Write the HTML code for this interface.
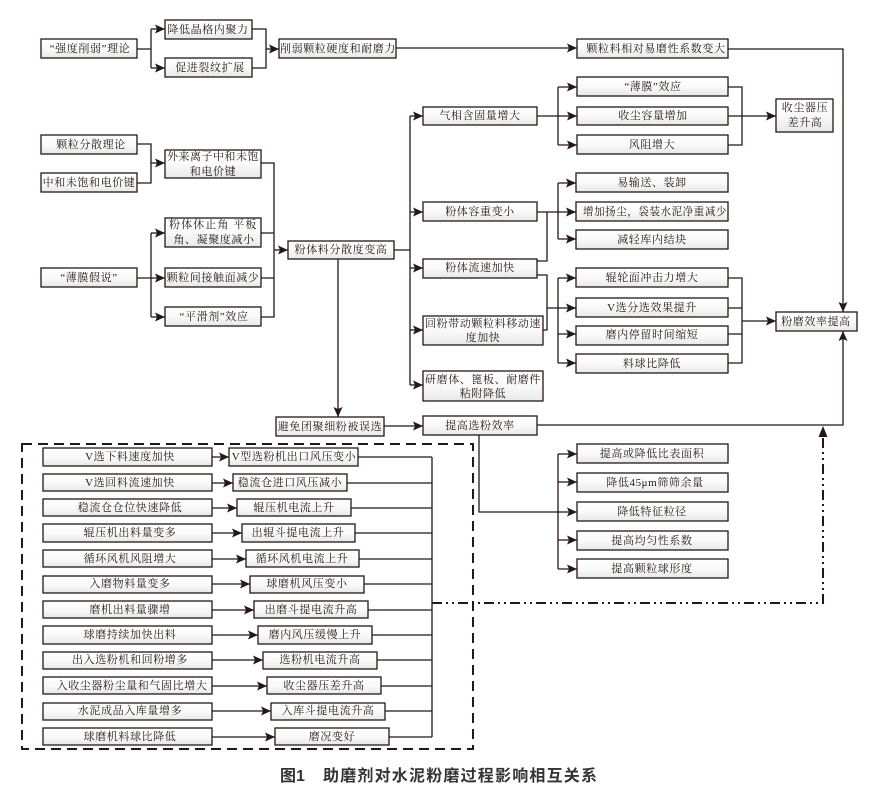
<!DOCTYPE html>
<html><head><meta charset="utf-8">
<style>
html,body{margin:0;padding:0;background:#fff;}
svg{display:block;}
.t{font-family:"Liberation Serif","Noto Serif CJK SC",serif;font-size:11px;letter-spacing:0.6px;fill:#231815;}
.b{fill:url(#g);stroke:#231815;stroke-width:1.3;}
.l{fill:none;stroke:#231815;stroke-width:1.3;}
</style></head>
<body>
<svg width="869" height="793" viewBox="0 0 869 793" xmlns="http://www.w3.org/2000/svg">
<defs>
<linearGradient id="g" x1="0" y1="0" x2="0" y2="1">
<stop offset="0" stop-color="#ffffff"/><stop offset="0.5" stop-color="#fafafa"/><stop offset="1" stop-color="#e8e8e8"/>
</linearGradient>
<marker id="a" viewBox="0 0 10 9" refX="10" refY="4.5" markerWidth="10" markerHeight="9" orient="auto" markerUnits="userSpaceOnUse">
<path d="M0,0 L10,4.5 L0,9 L2,4.5 z" fill="#231815"/>
</marker>
</defs>

<!-- connectors -->
<g class="l">
<!-- top group -->
<path d="M137,49 H151 M151,29 V68"/>
<path d="M151,29 H165" marker-end="url(#a)"/>
<path d="M151,68 H165" marker-end="url(#a)"/>
<path d="M252,29 H266 V68 H252"/>
<path d="M266,49 H279" marker-end="url(#a)"/>
<path d="M396,48 H577" marker-end="url(#a)"/>
<path d="M728,49 H843 V312" marker-end="url(#a)"/>

<!-- second group -->
<path d="M137,144 H151 V183 H137"/>
<path d="M151,163 H165" marker-end="url(#a)"/>
<path d="M261,163 H274 V317 H261 M261,233 H274 M261,278 H274"/>
<path d="M274,250 H288" marker-end="url(#a)"/>
<path d="M137,278 H165" marker-end="url(#a)"/>
<path d="M151,233 V317"/>
<path d="M151,233 H165" marker-end="url(#a)"/>
<path d="M151,317 H165" marker-end="url(#a)"/>
<path d="M394,250 H410 M410,116 V385"/>
<path d="M410,116 H423" marker-end="url(#a)"/>
<path d="M410,212 H423" marker-end="url(#a)"/>
<path d="M410,268 H423" marker-end="url(#a)"/>
<path d="M410,330 H423" marker-end="url(#a)"/>
<path d="M410,385 H423" marker-end="url(#a)"/>
<path d="M338,259 V417" marker-end="url(#a)"/>
<path d="M384,426 H423" marker-end="url(#a)"/>

<!-- gas group -->
<path d="M537,116 H577" marker-end="url(#a)"/>
<path d="M558,87 V145"/>
<path d="M558,87 H577" marker-end="url(#a)"/>
<path d="M558,145 H577" marker-end="url(#a)"/>
<path d="M728,87 H742 V145 H728"/>
<path d="M728,116 H776" marker-end="url(#a)"/>

<!-- transport group -->
<path d="M537,212 H576" marker-end="url(#a)"/>
<path d="M558,183 V239"/>
<path d="M558,183 H576" marker-end="url(#a)"/>
<path d="M558,239 H576" marker-end="url(#a)"/>
<path d="M537,261 H547 V212"/>
<path d="M537,275 H547 V330 H543"/>
<path d="M547,308 H576" marker-end="url(#a)"/>
<path d="M558,278 V363"/>
<path d="M558,278 H576" marker-end="url(#a)"/>
<path d="M558,334 H576" marker-end="url(#a)"/>
<path d="M558,363 H576" marker-end="url(#a)"/>
<path d="M728,278 H742 V363 H728 M728,308 H742 M728,334 H742"/>
<path d="M742,321 H776" marker-end="url(#a)"/>
<path d="M537,425 H843 V331" marker-end="url(#a)"/>

<!-- selection group -->
<path d="M479,435 V512 H577" marker-end="url(#a)"/>
<path d="M558,454 V569"/>
<path d="M558,454 H577" marker-end="url(#a)"/>
<path d="M558,482 H577" marker-end="url(#a)"/>
<path d="M558,540 H577" marker-end="url(#a)"/>
<path d="M558,569 H577" marker-end="url(#a)"/>

<!-- dashed box inner -->
<path d="M432,457 V737"/>
<path d="M212,457 H229" marker-end="url(#a)"/>
<path d="M212,483 H233" marker-end="url(#a)"/>
<path d="M212,508 H237" marker-end="url(#a)"/>
<path d="M212,533 H242" marker-end="url(#a)"/>
<path d="M212,559 H246" marker-end="url(#a)"/>
<path d="M212,584 H250" marker-end="url(#a)"/>
<path d="M212,610 H254" marker-end="url(#a)"/>
<path d="M212,635 H258" marker-end="url(#a)"/>
<path d="M212,660 H263" marker-end="url(#a)"/>
<path d="M212,686 H267" marker-end="url(#a)"/>
<path d="M212,711 H271" marker-end="url(#a)"/>
<path d="M212,737 H275" marker-end="url(#a)"/>
<path d="M358,457 H432 M347,483 H432 M351,508 H432 M355,533 H432 M359,559 H432 M364,584 H432 M368,610 H432 M372,635 H432 M377,660 H432 M381,686 H432 M385,711 H432 M389,737 H432"/>
</g>

<!-- dashed outer box -->
<rect x="22" y="444" width="451" height="305" fill="none" stroke="#231815" stroke-width="2" stroke-dasharray="10 6"/>
<!-- dash-dot feedback -->
<path d="M432,603 H823 V437" fill="none" stroke="#231815" stroke-width="2" stroke-dasharray="10 4 2 4 2 4"/>
<path d="M823,426 L827.5,437 L818.5,437 z" fill="#231815"/>

<!-- boxes -->
<g class="b">
<rect x="41" y="39" width="96" height="19"/>
<rect x="165" y="20" width="87" height="19"/>
<rect x="165" y="58" width="87" height="19"/>
<rect x="279" y="39" width="117" height="19"/>
<rect x="577" y="39" width="151" height="19"/>
<rect x="41" y="135" width="96" height="19"/>
<rect x="41" y="173" width="96" height="19"/>
<rect x="165" y="150" width="96" height="28"/>
<rect x="165" y="218" width="96" height="29"/>
<rect x="41" y="268" width="96" height="19"/>
<rect x="165" y="268" width="96" height="19"/>
<rect x="165" y="307" width="96" height="19"/>
<rect x="288" y="241" width="106" height="18"/>
<rect x="276" y="417" width="108" height="19"/>
<rect x="423" y="107" width="114" height="18"/>
<rect x="423" y="202" width="114" height="19"/>
<rect x="423" y="259" width="114" height="19"/>
<rect x="423" y="316" width="120" height="29"/>
<rect x="423" y="371" width="120" height="30"/>
<rect x="423" y="416" width="114" height="19"/>
<rect x="577" y="77" width="151" height="19"/>
<rect x="577" y="107" width="151" height="18"/>
<rect x="577" y="135" width="151" height="19"/>
<rect x="776" y="99" width="57" height="33"/>
<rect x="576" y="173" width="152" height="19"/>
<rect x="576" y="202" width="152" height="19"/>
<rect x="576" y="230" width="152" height="19"/>
<rect x="576" y="268" width="152" height="19"/>
<rect x="576" y="298" width="152" height="19"/>
<rect x="576" y="326" width="152" height="19"/>
<rect x="576" y="354" width="152" height="19"/>
<rect x="776" y="312" width="81" height="19"/>
<rect x="577" y="444" width="151" height="19"/>
<rect x="577" y="473" width="151" height="19"/>
<rect x="577" y="502" width="151" height="19"/>
<rect x="577" y="531" width="151" height="19"/>
<rect x="577" y="559" width="151" height="19"/>
<!-- dashed box rows left -->
<rect x="43" y="448" width="169" height="18"/>
<rect x="43" y="474" width="169" height="17"/>
<rect x="43" y="499" width="169" height="17"/>
<rect x="43" y="524" width="169" height="18"/>
<rect x="43" y="550" width="169" height="17"/>
<rect x="43" y="576" width="169" height="17"/>
<rect x="43" y="601" width="169" height="17"/>
<rect x="43" y="626" width="169" height="18"/>
<rect x="43" y="652" width="169" height="17"/>
<rect x="43" y="677" width="169" height="17"/>
<rect x="43" y="703" width="169" height="17"/>
<rect x="43" y="728" width="169" height="17"/>
<!-- right -->
<rect x="229" y="448" width="129" height="18"/>
<rect x="233" y="474" width="114" height="17"/>
<rect x="237" y="499" width="114" height="17"/>
<rect x="242" y="524" width="113" height="18"/>
<rect x="246" y="550" width="113" height="17"/>
<rect x="250" y="576" width="114" height="17"/>
<rect x="254" y="601" width="114" height="17"/>
<rect x="258" y="626" width="114" height="18"/>
<rect x="263" y="652" width="114" height="17"/>
<rect x="267" y="677" width="114" height="17"/>
<rect x="271" y="703" width="114" height="17"/>
<rect x="275" y="728" width="114" height="17"/>
</g>

<!-- texts -->
<g class="t" text-anchor="middle" dominant-baseline="central">
<text x="90" y="49">“强度削弱”理论</text>
<text x="208" y="30">降低晶格内聚力</text>
<text x="210" y="68">促进裂纹扩展</text>
<text x="338" y="49">削弱颗粒硬度和耐磨力</text>
<text x="656" y="49">颗粒料相对易磨性系数变大</text>
<text x="91" y="145">颗粒分散理论</text>
<text x="89" y="183">中和未饱和电价键</text>
<text x="213" y="157" textLength="92" lengthAdjust="spacing">外来离子中和未饱</text>
<text x="213" y="172">和电价键</text>
<text x="213" y="225" textLength="88" lengthAdjust="spacing">粉体休止角 平板</text>
<text x="214" y="240">角、凝聚度减小</text>
<text x="89" y="278">“薄膜假说”</text>
<text x="213" y="278">颗粒间接触面减少</text>
<text x="214" y="317">“平滑剂”效应</text>
<text x="341" y="250">粉体料分散度变高</text>
<text x="330" y="427">避免团聚细粉被误选</text>
<text x="480" y="116">气相含固量增大</text>
<text x="480" y="212">粉体容重变小</text>
<text x="480" y="268">粉体流速加快</text>
<text x="483" y="324" textLength="116" lengthAdjust="spacing">回粉带动颗粒料移动速</text>
<text x="483" y="338">度加快</text>
<text x="483" y="380" textLength="116" lengthAdjust="spacing">研磨体、篦板、耐磨件</text>
<text x="483" y="394">粘附降低</text>
<text x="480" y="426">提高选粉效率</text>
<text x="653" y="87">“薄膜”效应</text>
<text x="653" y="116">收尘容量增加</text>
<text x="652" y="145">风阻增大</text>
<text x="805" y="108">收尘器压</text>
<text x="805" y="123">差升高</text>
<text x="652" y="183">易输送、装卸</text>
<text x="655" y="212" textLength="144" lengthAdjust="spacingAndGlyphs">增加扬尘，袋装水泥净重减少</text>
<text x="652" y="240">减轻库内结块</text>
<text x="652" y="278">辊轮面冲击力增大</text>
<text x="652" y="308">V选分选效果提升</text>
<text x="652" y="335">磨内停留时间缩短</text>
<text x="652" y="364">料球比降低</text>
<text x="816" y="322">粉磨效率提高</text>
<text x="652" y="454">提高或降低比表面积</text>
<text x="655" y="483">降低45μm筛筛余量</text>
<text x="652" y="512">降低特征粒径</text>
<text x="652" y="541">提高均匀性系数</text>
<text x="652" y="569">提高颗粒球形度</text>

<text x="130" y="457">V选下料速度加快</text>
<text x="130" y="483">V选回料流速加快</text>
<text x="130" y="508">稳流仓仓位快速降低</text>
<text x="130" y="533">辊压机出料量变多</text>
<text x="130" y="559">循环风机风阻增大</text>
<text x="130" y="584">入磨物料量变多</text>
<text x="130" y="610">磨机出料量骤增</text>
<text x="130" y="635">球磨持续加快出料</text>
<text x="130" y="660">出入选粉机和回粉增多</text>
<text x="132" y="686">入收尘器粉尘量和气固比增大</text>
<text x="130" y="711">水泥成品入库量增多</text>
<text x="130" y="737">球磨机料球比降低</text>

<text x="294" y="457">V型选粉机出口风压变小</text>
<text x="290" y="483">稳流仓进口风压减小</text>
<text x="294" y="508">辊压机电流上升</text>
<text x="298" y="533">出辊斗提电流上升</text>
<text x="302" y="559">循环风机电流上升</text>
<text x="307" y="584">球磨机风压变小</text>
<text x="311" y="610">出磨斗提电流升高</text>
<text x="315" y="635">磨内风压缓慢上升</text>
<text x="320" y="660">选粉机电流升高</text>
<text x="324" y="686">收尘器压差升高</text>
<text x="328" y="711">入库斗提电流升高</text>
<text x="332" y="737">磨况变好</text>
</g>

<!-- caption -->
<g font-family="'Liberation Sans','Noto Sans CJK SC',sans-serif" font-weight="bold" font-size="16" fill="#333">
<text x="280" y="781">图1</text>
<text x="323" y="781" textLength="274" lengthAdjust="spacing">助磨剂对水泥粉磨过程影响相互关系</text>
</g>
</svg>
</body></html>
